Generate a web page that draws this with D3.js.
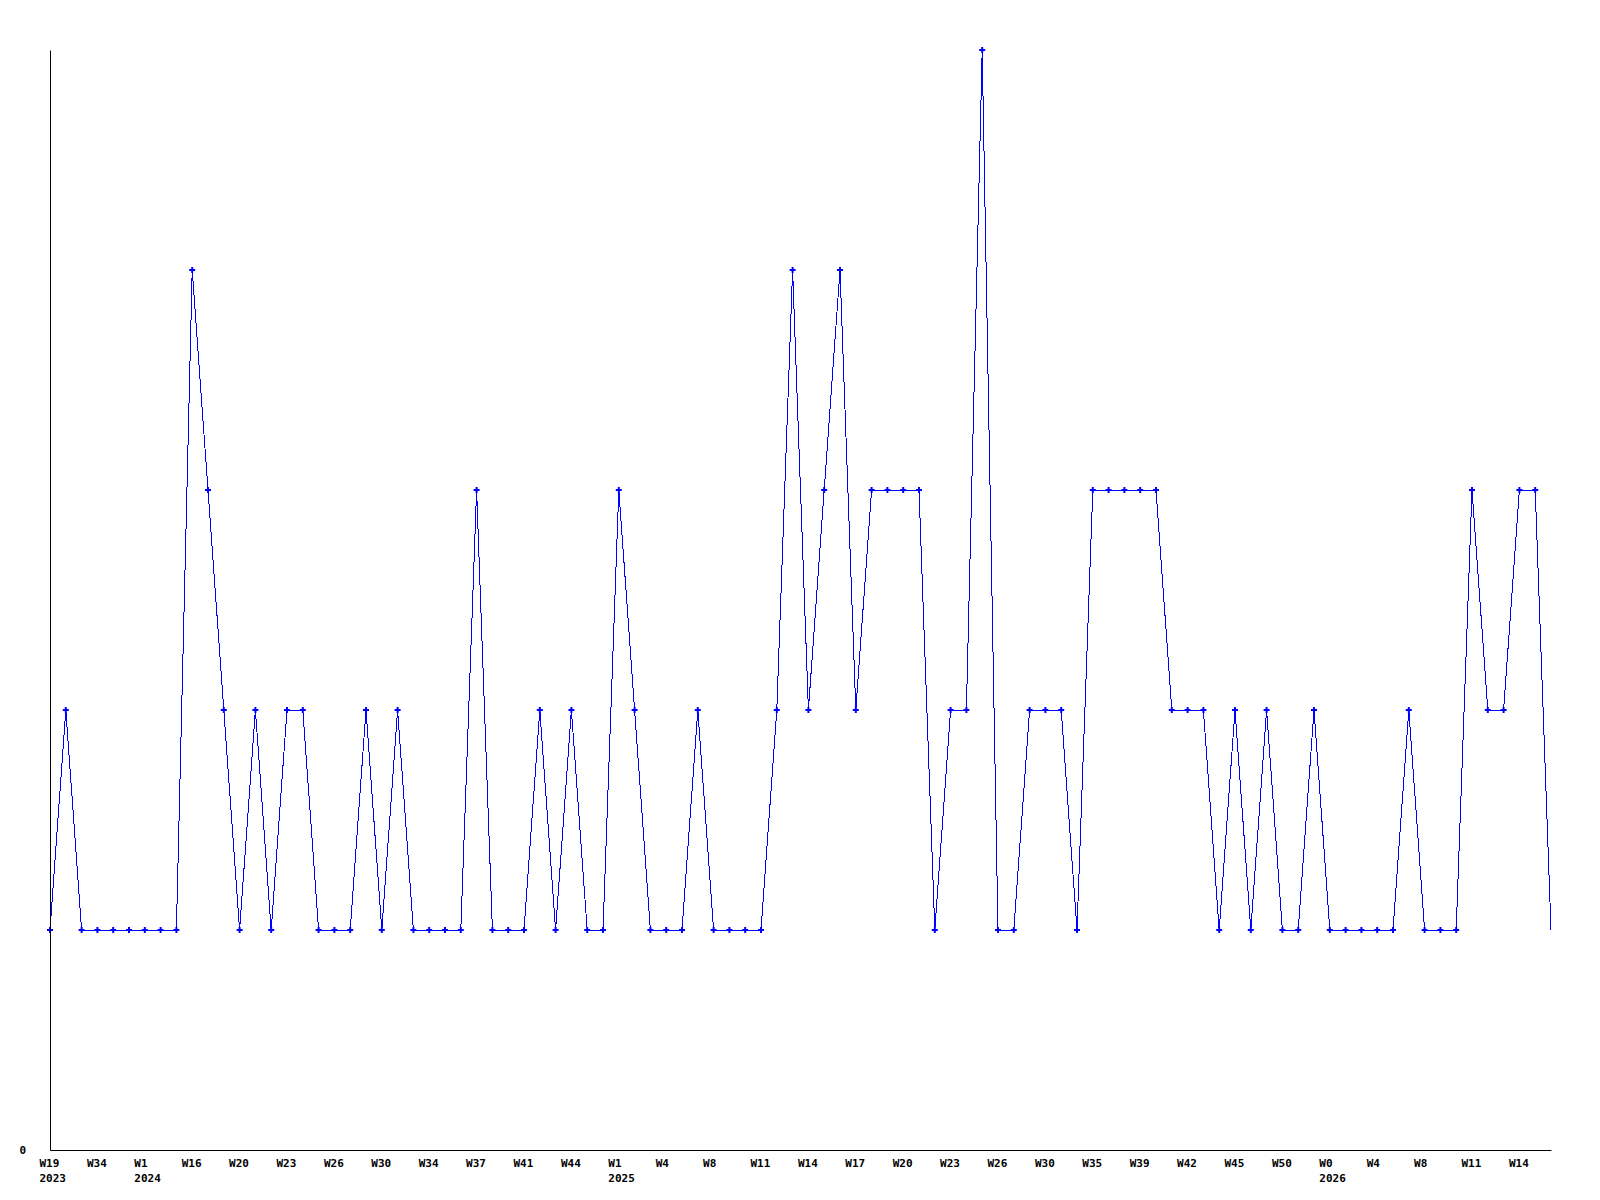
<!DOCTYPE html>
<meta charset="utf-8" />

<head>
  <style>
    body { margin: 0; background: #fff; }
    .axis text { font: bold 11px "DejaVu Sans Mono", monospace; fill: #000; }
    .axis path { stroke: #000; }
  </style>
  <script src="https://d3js.org/d3.v7.min.js"></script>
</head>

<body>
  <svg width="1600" height="1200"></svg>
  <script>
    // one value per point, left to right
    const values = [
      1, 2, 1, 1, 1, 1, 1, 1, 1, 4, 3, 2, 1, 2, 1, 2, 2, 1, 1, 1, 2, 1, 2, 1,
      1, 1, 1, 3, 1, 1, 1, 2, 1, 2, 1, 1, 3, 2, 1, 1, 1, 2, 1, 1, 1, 1, 2, 4,
      2, 3, 4, 2, 3, 3, 3, 3, 1, 2, 2, 5, 1, 1, 2, 2, 2, 1, 3, 3, 3, 3, 3, 2,
      2, 2, 1, 2, 1, 2, 1, 1, 2, 1, 1, 1, 1, 1, 2, 1, 1, 1, 3, 2, 2, 3, 3, 1
    ];
    // labels shown on every third point
    const tickWeeks = [
      "W19", "W34", "W1", "W16", "W20", "W23", "W26", "W30", "W34", "W37", "W41",
      "W44", "W1", "W4", "W8", "W11", "W14", "W17", "W20", "W23", "W26", "W30",
      "W35", "W39", "W42", "W45", "W50", "W0", "W4", "W8", "W11", "W14"
    ];
    const tickYears = [
      "2023", "", "2024", "", "", "", "", "", "", "", "",
      "", "2025", "", "", "", "", "", "", "", "", "",
      "", "", "", "", "", "2026", "", "", "", ""
    ];
    const tickEvery = 3;

    const svg = d3.select("svg");
    const plotLeft = 50, plotRight = 1551, plotTop = 50, plotBottom = 1150;

    const idx = values.map((d, i) => i);
    const x = d3.scalePoint().domain(idx).range([plotLeft, plotRight]);
    const y = d3.scaleLinear().domain([0, 5]).range([plotBottom, plotTop]);

    // line
    svg.append("path")
      .datum(values)
      .attr("fill", "none")
      .attr("stroke", "#0000ff")
      .attr("stroke-width", 1)
      .attr("shape-rendering", "crispEdges")
      .attr("d", d3.line().x((d, i) => x(i)).y(d => y(d)));

    // markers (the last, still open point has none)
    svg.selectAll(".pt")
      .data(values.slice(0, values.length - 1))
      .enter()
      .append("path")
      .attr("class", "pt")
      .attr("fill", "#0000ff")
      .attr("transform", (d, i) => "translate(" + x(i) + "," + y(d) + ")")
      .attr("d", d3.symbol(d3.symbolCross, 20));

    // x axis
    const xAxis = svg.append("g")
      .attr("class", "axis")
      .attr("transform", "translate(0," + plotBottom + ")")
      .call(d3.axisBottom(x)
        .tickValues(idx.filter(i => i % tickEvery === 0))
        .tickSize(0)
        .tickSizeOuter(0)
        .tickFormat(() => ""));
    xAxis.selectAll(".tick line").remove();
    xAxis.selectAll(".tick text").each(function (d) {
      const k = d / tickEvery;
      const t = d3.select(this)
        .attr("y", 0)
        .attr("dy", null)
        .attr("text-anchor", "start");
      t.append("tspan").attr("x", -11).attr("y", 17).text(tickWeeks[k]);
      if (tickYears[k]) {
        t.append("tspan").attr("x", -11).attr("y", 32).text(tickYears[k]);
      }
    });

    // y axis
    const yAxis = svg.append("g")
      .attr("class", "axis")
      .attr("transform", "translate(" + plotLeft + ",0)")
      .call(d3.axisLeft(y)
        .tickValues([0])
        .tickFormat(d3.format("d"))
        .tickSize(0)
        .tickSizeOuter(0)
        .tickPadding(24));
    yAxis.selectAll(".tick line").remove();
  </script>
</body>
